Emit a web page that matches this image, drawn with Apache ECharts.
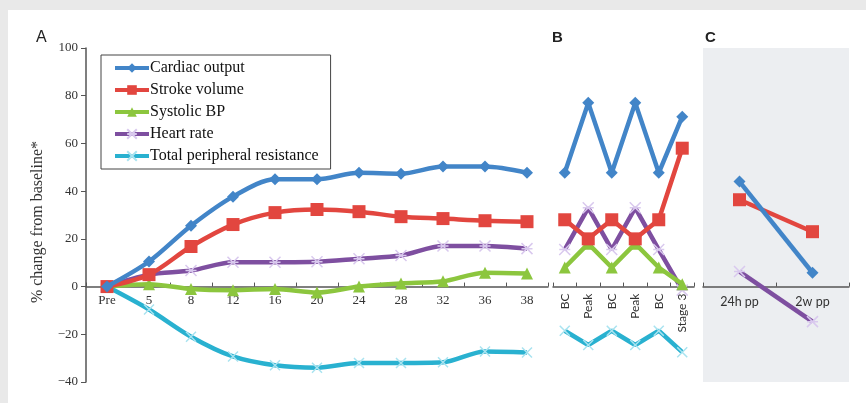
<!DOCTYPE html>
<html><head><meta charset="utf-8">
<script src="https://cdn.jsdelivr.net/npm/echarts@6/dist/echarts.min.js"></script>
<style>html,body{margin:0;padding:0;background:#e9e9e9;}#c{width:866px;height:403px;}</style>
</head><body><div id="c"></div>
<script>
const catsA = ['Pre','5','8','12','16','20','24','28','32','36','38'];
const catsB = ['BC','Peak','BC','Peak','BC','Stage 3'];
const catsC = ['24h pp','2w pp'];
const yMin = -40, yMax = 100, yStep = 20;
const names = ['Cardiac output','Stroke volume','Systolic BP','Heart rate','Total peripheral resistance'];

const coA  = [0,10.5,25.5,37.7,45,45,47.7,47.3,50.3,50.3,47.7];
const svA  = [0,5,16.8,26,31,32.3,31.4,29.3,28.5,27.6,27.2];
const sbpA = [0,1,-1,-1.5,-1,-2.5,0,1.3,2.2,5.8,5.5];
const hrA  = [0,5,6.7,10.2,10.2,10.4,11.7,13,17,17,15.9];
const tprA = [0,-9.6,-21,-29.3,-33,-34,-32,-32,-31.7,-27.2,-27.6];

const coB  = [47.7,77,47.7,77,47.7,71.2];
const svB  = [28,20,28,20,28,58];
const sbpB = [8,18,8,18,8,1];
const hrB  = [15.5,33,15.5,33,15.5,-1.5];
const tprB = [-18.5,-24.5,-18.5,-24.5,-18.5,-27.5];

const coC = [44,5.8];
const svC = [36.4,23];
const hrC = [6.3,-14.7];

const colors = ['#4285c8','#e2463f','#8cc63e','#7e4fa0','#29b1d0'];
const symbols = ['diamond','rect','triangle','path://M0,0L10,10M10,0L0,10M0,5L10,5','path://M0,0L10,10M10,0L0,10'];
const sizes = [12,13,12,11,10];

function mk(idx, data, axis, smooth){
  const s = {
    name: names[idx], type:'line', data:data, xAxisIndex:axis, yAxisIndex:axis,
    smooth: smooth ? 0.3 : false, symbol: symbols[idx], symbolSize: sizes[idx],
    lineStyle:{color:colors[idx], width:4.5},
    itemStyle:{color:colors[idx]}, animation:false, z: 10-idx
  };
  if(idx>=3){ s.itemStyle = {color:colors[idx], borderColor: idx===4 ? '#a9e3f0' : '#d9c9ee', borderWidth:1.5}; }
  return s;
}

const serif = 'Liberation Serif, Times New Roman, serif';
const sans = 'Lato, Liberation Sans, sans-serif';
const axisColor = '#555';
const gridTop = 48, gridH = 334;
// place category axis on the zero line of the value axis
const zeroOffset = -gridH * (0 - yMin) / (yMax - yMin);

function yAx(i, show){
  return {gridIndex:i, type:'value', min:yMin, max:yMax, interval:yStep, show:true,
    axisLine:{show:show, lineStyle:{color:axisColor, width:1.5}},
    axisTick:{show:show, length:5, lineStyle:{color:axisColor}},
    splitLine:{show:false},
    axisLabel:{show:show, fontFamily:serif, fontSize:13, color:'#333', margin:8,
      formatter:v=>String(v).replace('-','\u2212')}};
}
function xAx(i, cats, lab){
  return {gridIndex:i, type:'category', data:cats, boundaryGap:true, position:'bottom', offset:zeroOffset,
    axisLine:{onZero:false, lineStyle:{color:axisColor, width:1.5}},
    axisTick:{show:true, inside:true, length:4, interval:0, lineStyle:{color:axisColor}},
    axisLabel: Object.assign({interval:0, color:'#333'}, lab)};
}

const chart = echarts.init(document.getElementById('c'), null, {renderer:'canvas'});
chart.setOption({
  backgroundColor:'#e9e9e9',
  animation:false,
  graphic:[
    {type:'rect', shape:{x:8,y:10,width:858,height:393}, style:{fill:'#ffffff'}, z:-10},
    {type:'text', left:36, top:30, style:{text:'A', font:'16px Liberation Sans, Arial, sans-serif', fill:'#222'}},
    {type:'text', left:552, top:30, style:{text:'B', font:'bold 15px Liberation Sans, Arial, sans-serif', fill:'#222'}},
    {type:'text', left:705, top:30, style:{text:'C', font:'bold 15px Liberation Sans, Arial, sans-serif', fill:'#222'}},
    {type:'text', x:38, y:222, rotation:Math.PI/2, style:{text:'% change from baseline*', font:'16px '+serif, fill:'#333', align:'center', verticalAlign:'middle'}}
  ],
  grid:[
    {left:86, top:gridTop, width:462, height:gridH, outerBoundsMode:'none', containLabel:false},
    {left:553, top:gridTop, width:141, height:gridH, outerBoundsMode:'none', containLabel:false},
    {left:703, top:gridTop, width:146, height:gridH, outerBoundsMode:'none', containLabel:false, show:true, borderWidth:0, backgroundColor:'#eceef1'}
  ],
  xAxis:[
    xAx(0, catsA, {fontFamily:serif, fontSize:13, margin:8}),
    xAx(1, catsB, {fontFamily:sans, fontSize:12, rotate:90, margin:7}),
    xAx(2, catsC, {fontFamily:sans, fontSize:12.5, margin:9})
  ],
  yAxis:[ yAx(0,true), yAx(1,false), yAx(2,false) ],
  legend:{
    data:names, orient:'vertical', left:101, top:55, itemWidth:34, itemHeight:12, itemGap:6,
    padding:[5,12,5,12], borderColor:'#444', borderWidth:1, backgroundColor:'#fff',
    lineStyle:{width:4},
    textStyle:{fontFamily:serif, fontSize:16, color:'#111', padding:[0,0,0,-4]},
    selectedMode:false
  },
  series:[
    mk(0,coA,0,true), mk(1,svA,0,true), mk(2,sbpA,0,true), mk(3,hrA,0,true), mk(4,tprA,0,true),
    mk(0,coB,1,false), mk(1,svB,1,false), mk(2,sbpB,1,false), mk(3,hrB,1,false), mk(4,tprB,1,false),
    mk(0,coC,2,false), mk(1,svC,2,false), mk(3,hrC,2,false)
  ]
});
</script></body></html>
